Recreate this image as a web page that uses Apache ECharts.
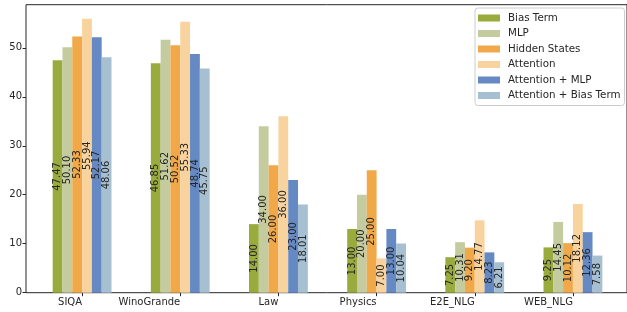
<!DOCTYPE html>
<html><head><meta charset="utf-8">
<script src="https://cdn.jsdelivr.net/npm/echarts@6/dist/echarts.min.js"></script>
<style>html,body{margin:0;padding:0;background:#fff}#c{width:627px;height:312px}</style>
</head><body><div id="c"></div>
<script>
const categories = ['SIQA', 'WinoGrande', 'Law', 'Physics', 'E2E_NLG', 'WEB_NLG'];
const seriesNames = ['Bias Term', 'MLP', 'Hidden States', 'Attention', 'Attention + MLP', 'Attention + Bias Term'];
const biasTerm = [47.47, 46.85, 14.00, 13.00, 7.25, 9.25];
const mlp = [50.10, 51.62, 34.00, 20.00, 10.31, 14.45];
const hiddenStates = [52.33, 50.52, 26.00, 25.00, 9.20, 10.12];
const attention = [55.94, 55.33, 36.00, 7.00, 14.77, 18.12];
const attentionMlp = [52.17, 48.74, 23.00, 13.00, 8.23, 12.36];
const attentionBias = [48.06, 45.75, 18.01, 10.04, 6.21, 7.58];
const yTicks = [0, 10, 20, 30, 40, 50];

const values = [biasTerm, mlp, hiddenStates, attention, attentionMlp, attentionBias];
const colors = ['#9aab3d', '#c4cb9f', '#f0a848', '#f9d39e', '#6589c3', '#a6bfd1'];
const FONT = 'DejaVu Sans';

const chart = echarts.init(document.getElementById('c'), null, {renderer: 'canvas'});
chart.setOption({
  animation: false,
  grid: [
    {left: 26, right: -10, top: 4.7, bottom: 19.3, show: true, borderColor: '#262626', borderWidth: 1, backgroundColor: 'transparent'},
    {left: 33, right: 5, top: 4.7, bottom: 19.3}
  ],
  legend: {
    orient: 'vertical', left: 475, top: 8,
    data: seriesNames,
    itemWidth: 22, itemHeight: 7, itemGap: 3.5,
    icon: 'rect',
    padding: [4, 4, 4, 3],
    borderColor: '#cccccc', borderWidth: 1, borderRadius: 3,
    backgroundColor: 'rgba(255,255,255,0.8)',
    textStyle: {fontFamily: FONT, fontSize: 10.3, color: '#262626', lineHeight: 12, padding: [0, 0, 0, 3]}
  },
  xAxis: [
    {type: 'value', gridIndex: 0, show: false, min: 0, max: 1},
    {type: 'category', gridIndex: 1, data: categories,
      axisLine: {show: false},
      axisTick: {show: true, alignWithLabel: true, length: 3.5, lineStyle: {color: '#262626'}},
      axisLabel: {fontFamily: FONT, fontSize: 10, color: '#262626', align: 'right', margin: 5}
    }
  ],
  yAxis: [
    {type: 'value', gridIndex: 0, show: false, min: 0, max: 1},
    {type: 'value', gridIndex: 1, min: 0, max: 58.8, interval: 10, offset: 7,
      axisLine: {show: false},
      axisTick: {show: true, length: 3.5, lineStyle: {color: '#262626'}},
      splitLine: {show: false},
      axisLabel: {fontFamily: FONT, fontSize: 10, color: '#262626', margin: 4, showMaxLabel: false,
        formatter: v => yTicks.includes(v) ? String(v) : ''}
    }
  ],
  series: seriesNames.map((name, i) => ({
    name, type: 'bar', xAxisIndex: 1, yAxisIndex: 1,
    data: values[i], barWidth: 9.8, barGap: '0%',
    itemStyle: {color: colors[i]},
    label: {show: true, position: 'inside', rotate: 90,
      fontFamily: FONT, fontSize: 10, color: '#262626',
      formatter: p => p.value.toFixed(2)}
  }))
});
</script></body></html>
